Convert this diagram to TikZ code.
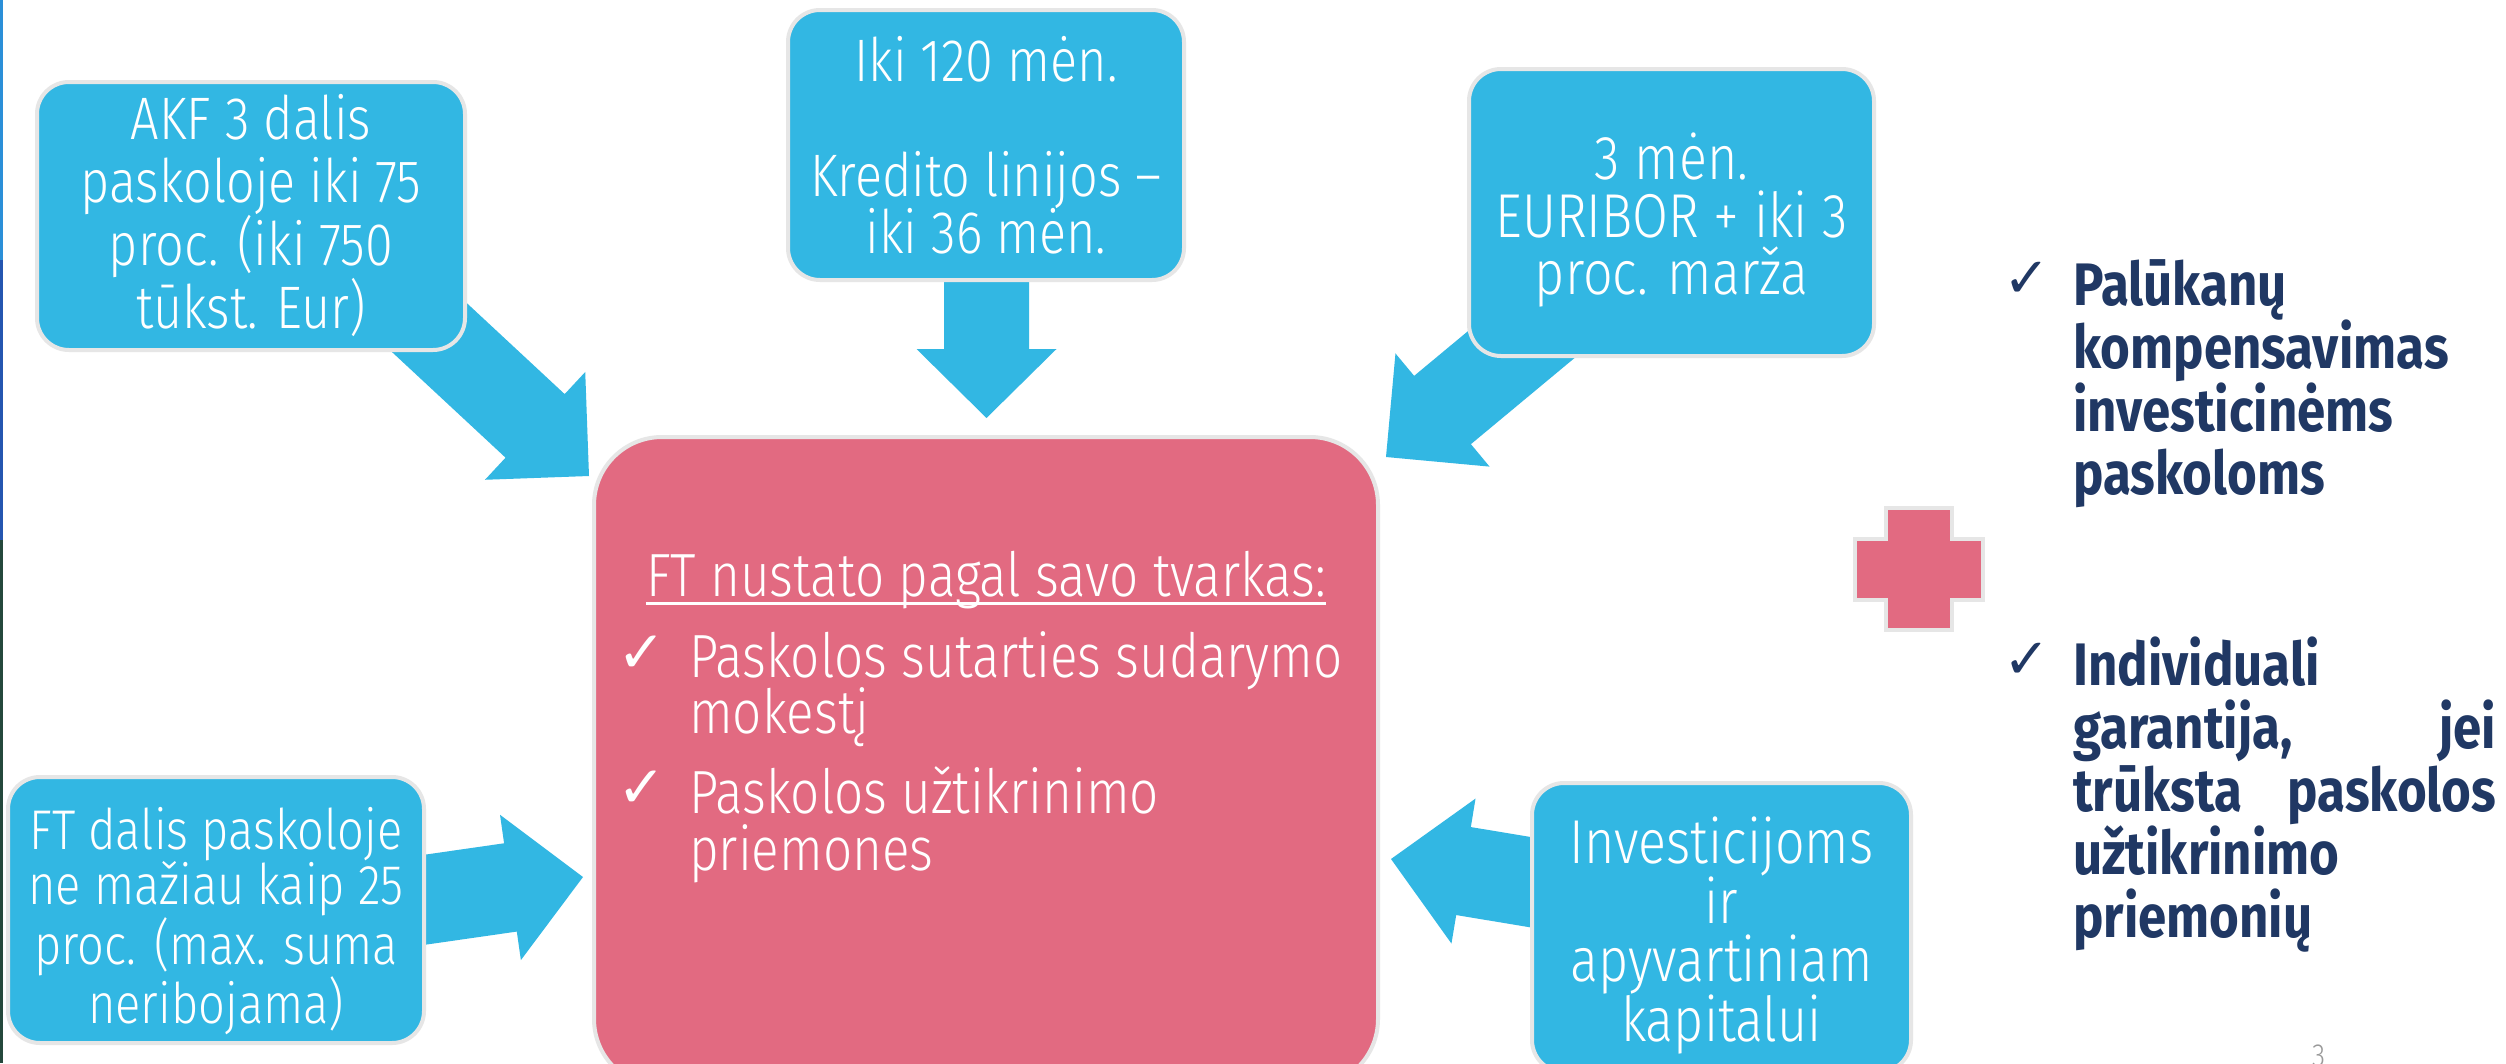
\documentclass[tikz,border=0pt]{standalone}
\usepackage{fontspec}
\usetikzlibrary{calc}
\IfFontExistsTF{Fira Sans Light}{\newfontfamily\lightf{Fira Sans Light}[FakeStretch=0.84]}{\newfontfamily\lightf{Fira Sans}[FakeStretch=0.84]}
\newfontfamily\boldf{Fira Sans}[FakeStretch=0.85]
\newfontfamily\symf{DejaVu Sans}
\definecolor{skyb}{HTML}{32B7E3}
\definecolor{rose}{HTML}{E26A81}
\definecolor{edgegray}{HTML}{E6E6E6}
\definecolor{navy}{HTML}{203864}
\definecolor{edgeA}{HTML}{2A8FD8}
\definecolor{edgeB}{HTML}{2456B0}
\definecolor{edgeC}{HTML}{24483C}
\newcommand\blockarrow[5]{%
  \coordinate (ba-h) at ($(#2)!#5!(#1)$);
  \fill[arrowfill] ($(#1)!#3!90:(#2)$) -- ($(ba-h)!#3!90:(#2)$) -- ($(ba-h)!#4!90:(#2)$) -- (#2)
    -- ($(ba-h)!#4!-90:(#2)$) -- ($(ba-h)!#3!-90:(#2)$) -- ($(#1)!#3!-90:(#2)$) -- cycle;}
\begin{document}
\begin{tikzpicture}[x=1pt,y=-1pt,
  arrowfill/.style={fill=skyb},
  bluebox/.style={draw=edgegray, line width=4pt, rounded corners=32pt, fill=skyb, text=white, align=center, inner sep=0pt},
  pinkbox/.style={draw=edgegray, line width=4pt, rounded corners=68pt, fill=rose, inner sep=0pt},
  pinktext/.style={text=white, inner sep=0pt, anchor=base west, font=\lightf\fontsize{61}{56}\selectfont},
  whitecheck/.style={text=white, inner sep=0pt, anchor=base west, font=\symf\fontsize{58}{58}\selectfont},
  navycheck/.style={text=navy, inner sep=0pt, anchor=base west, font=\symf\fontsize{56}{56}\selectfont},
  navytext/.style={text=navy, inner sep=0pt, anchor=base west, font=\boldf\bfseries\fontsize{60}{63}\selectfont}]
\useasboundingbox (0,0) rectangle (2506,1063);
\clip (0,0) rectangle (2506,1063);
\fill[white] (0,0) rectangle (2506,1063);
% left edge strip
\fill[edgeA] (0,0) rectangle (3,260);
\fill[edgeB] (0,260) rectangle (3,540);
\fill[edgeC] (0,540) rectangle (3,1063);

% arrow coordinates
\coordinate (a1s) at (389,290);   \coordinate (a1t) at (589,476);
\coordinate (a2s) at (986.5,150); \coordinate (a2t) at (986.5,418);
\coordinate (a3s) at (1635,250);  \coordinate (a3t) at (1386,457);
\coordinate (a4s) at (263,923);   \coordinate (a4t) at (583,877);
\coordinate (a5s) at (1710,912);  \coordinate (a5t) at (1391,859);
\blockarrow{a1s}{a1t}{43.4pt}{73.6pt}{73.6pt}
\blockarrow{a2s}{a2t}{42.5pt}{70pt}{69pt}
\blockarrow{a3s}{a3t}{44.4pt}{73.6pt}{73.5pt}
\blockarrow{a4s}{a4t}{44.6pt}{73.4pt}{73.3pt}
\blockarrow{a5s}{a5t}{44.6pt}{73.5pt}{73.5pt}

% blue boxes
\node[bluebox, font=\lightf\fontsize{60}{63}\selectfont, minimum width=428pt, minimum height=268pt] (akf) at (251,216)
  {AKF 3 dalis\\paskoloje iki 75\\proc. (iki 750\\tūkst. Eur)};
\node[bluebox, font=\lightf\fontsize{60}{57.5}\selectfont, minimum width=396pt, minimum height=270pt] (term) at (986,145)
  {Iki 120 mėn.\\[57.5pt]Kredito linijos –\\iki 36 mėn.};
\node[bluebox, font=\lightf\fontsize{62}{57.5}\selectfont, minimum width=405pt, minimum height=287pt] (rate) at (1671.5,212.5)
  {\raisebox{-8pt}[\height][\depth]{\parbox{380pt}{\centering 3 mėn.\\EURIBOR + iki 3\\proc. marža}}};
\node[bluebox, font=\lightf\fontsize{56}{53}\selectfont, minimum width=416pt, minimum height=266pt] (ftpart) at (216,910)
  {\raisebox{-11pt}[\height][\depth]{\parbox{400pt}{\centering FT dalis paskoloje\\ne mažiau kaip 25\\proc. (max. suma\\neribojama)}}};
\node[bluebox, font=\lightf\fontsize{62}{58}\selectfont, minimum width=379pt, minimum height=289pt] (purp) at (1721.5,927.5)
  {\raisebox{-8pt}[\height][\depth]{\parbox{370pt}{\centering Investicijoms\\ir\\apyvartiniam\\kapitalui}}};

% central pink box
\node[pinkbox, minimum width=784pt, minimum height=650pt] (ft) at (986,762) {};
\node[pinktext, anchor=base] (ttl) at (986,596) {FT nustato pagal savo tvarkas:};
\draw[white, line width=3pt] ($(ttl.base west)+(0,7)$) -- ($(ttl.base east)+(0,7)$);
\node[whitecheck] (c1) at (617,672) {✓};
\node[pinktext] (i1a) at (689,677) {Paskolos sutarties sudarymo};
\node[pinktext] (i1b) at (689,733) {mokestį};
\node[whitecheck] (c2) at (617,807) {✓};
\node[pinktext] (i2a) at (689,813) {Paskolos užtikrinimo};
\node[pinktext] (i2b) at (689,870) {priemones};

% plus sign
\draw[edgegray, line width=4pt, fill=rose] (1886,508) -- (1952,508) -- (1952,539) -- (1983,539) -- (1983,600)
  -- (1952,600) -- (1952,630) -- (1886,630) -- (1886,600) -- (1855,600) -- (1855,539) -- (1886,539) -- cycle;

% right text
\node[navycheck] (r1c) at (2003,297) {✓};
\node[navytext] (r1a) at (2073,305) {Palūkanų};
\node[navytext] (r1b) at (2073,368) {kompensavimas};
\node[navytext] (r1c2) at (2073,431) {investicinėms};
\node[navytext] (r1d) at (2073,494) {paskoloms};
\node[navycheck] (r2c) at (2003,678) {✓};
\node[navytext] (r2a) at (2073,685) {Individuali};
\node[navytext] (r2b) at (2073,748) {\hbox to 423pt{garantija,\hfill jei}};
\node[navytext] (r2c2) at (2073,811) {\hbox to 423pt{trūksta\hfill paskolos}};
\node[navytext] (r2d) at (2073,874) {užtikrinimo};
\node[navytext] (r2e) at (2073,937) {priemonių};

% page number
\node[text=gray!80, inner sep=0pt, anchor=base west, font=\lightf\fontsize{32}{32}\selectfont] (pg) at (2312,1066) {3};
\end{tikzpicture}
\end{document}
